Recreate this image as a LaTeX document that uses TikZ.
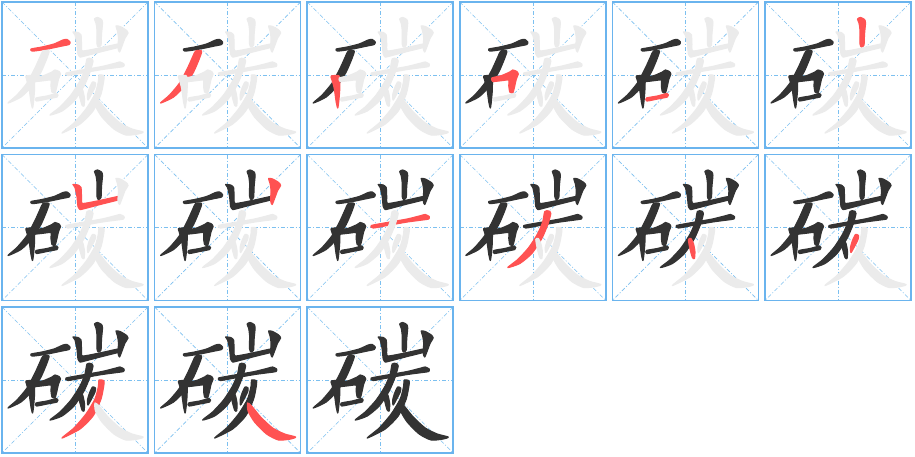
\documentclass[tikz,border=0pt]{standalone}
\begin{document}
\begin{tikzpicture}[x=1pt,y=-1pt,
  cellbox/.style={draw=gridblue,line width=1.6pt},
  guide/.style={draw=guideblue,line width=0.6pt,dash pattern=on 4pt off 2pt on 1pt off 2pt},
  ghost/.style={fill=ghostgray,draw=ghostgray,line width=1.2pt,line join=round},
  ink/.style={fill=inkdark,draw=inkdark,line width=1.2pt,line join=round},
  hot/.style={fill=hotred,draw=hotred,line width=1.2pt,line join=round}]
\definecolor{gridblue}{HTML}{6AB4EE}
\definecolor{guideblue}{HTML}{7CC0F0}
\definecolor{ghostgray}{HTML}{EBEBEB}
\definecolor{inkdark}{HTML}{333333}
\definecolor{hotred}{HTML}{FF5252}
\useasboundingbox (0,0) rectangle (915,456);
\fill[white] (0,0) rectangle (915,456);
% strokes in cell-local coordinates
\def\stkA{plot[smooth cycle,tension=0.4] coordinates {(29,47) (40,45) (52,42) (61,38) (65,37.5) (68,40) (67,42.5) (60,44) (48,46.5) (36,48.5) (30,49)}}
\def\stkB{plot[smooth cycle,tension=0.4] coordinates {(41,49) (47,49) (45,56) (39,70) (30,84) (19,95) (6,101) (15,93) (25,81) (33,66) (38,55)}}
\def\stkC{plot[smooth cycle,tension=0.4] coordinates {(24,74) (31,73.5) (32.5,76) (32.5,88) (31.5,100) (30.5,106) (29,100) (27,86) (24.5,77)}}
\def\stkD{plot[smooth cycle,tension=0.3] coordinates {(32,76) (42,73.5) (50,70) (53,68) (57,69.5) (58.5,72) (56.5,77) (54.5,86) (53,91) (50,90) (49,84) (49,78) (43,78.5) (33,79.5)}}
\def\stkE{plot[smooth cycle,tension=0.4] coordinates {(34,96) (45,94) (54.5,91.5) (56,93) (55,95) (45,97) (34.5,99)}}
\def\stkF{plot[smooth cycle,tension=0.4] coordinates {(92.5,17) (95.5,15.5) (99.5,17.5) (100.5,21) (99.5,32) (99,43) (96.5,45) (95,42) (95,28) (94,21)}}
\def\stkG{plot[smooth cycle,tension=0.3] coordinates {(71,30) (76,30.5) (79,33) (79.5,42) (80.5,49) (100,45.5) (116,42) (118.5,43.5) (116,45.5) (100,49.5) (81,54.5) (78,55) (76,52) (75,42) (73,33)}}
\def\stkH{plot[smooth cycle,tension=0.4] coordinates {(114,24) (118,24.5) (124,28) (126,31) (123,36) (120,44) (117.5,50) (116,46) (116.5,36) (115.5,29)}}
\def\stkI{plot[smooth cycle,tension=0.4] coordinates {(64,71) (80,68) (100,64.5) (114,61) (118,60) (122,62) (121.5,64.5) (115,65.5) (100,67.5) (80,71) (66,73.5)}}
\def\stkJ{plot[smooth cycle,tension=0.4] coordinates {(85,57) (89,56.5) (91,59) (88,70) (82,84) (72,99) (60,109) (48,113) (58,105) (69,93) (78,79) (83,67)}}
\def\stkK{plot[smooth cycle,tension=0.4] coordinates {(76,85) (78.5,84) (81,89) (82.5,97) (82,104) (80,103) (77.5,94)}}
\def\stkL{plot[smooth cycle,tension=0.4] coordinates {(90.5,80) (93.5,81) (93,85) (89.5,92) (86,98) (85.5,93) (87.5,86)}}
\def\stkM{plot[smooth cycle,tension=0.4] coordinates {(97,73) (101.5,73.5) (102,77) (99,92) (91,109) (78,122) (60,131) (72,121) (84,107) (93,92) (96.5,79)}}
\def\stkN{plot[smooth cycle,tension=0.4] coordinates {(93,96) (97,99) (106,110) (118,121) (130,127) (141,130) (136,132) (124,133) (112,127) (100,115) (93.5,104)}}
\def\allstk{\stkA,\stkB,\stkC,\stkD,\stkE,\stkF,\stkG,\stkH,\stkI,\stkJ,\stkK,\stkL,\stkM,\stkN}
% one cell: #1 x, #2 y, #3 current stroke number (15 = all done)
\newcommand\zicell[3]{%
 \begin{scope}[shift={(#1,#2)}]
  \draw[guide] (73,0) -- (73,146);
  \draw[guide] (0,73) -- (146,73);
  \draw[guide] (0,0) -- (146,146);
  \draw[guide] (146,0) -- (0,146);
  \foreach \s [count=\i] in \allstk {%
    \ifnum\i<#3 \filldraw[ink] \s;
    \else\ifnum\i=#3 \filldraw[hot] \s;
    \else \filldraw[ghost] \s; \fi\fi}
  \draw[cellbox] (0,0) rectangle (146,146);
 \end{scope}}
\zicell{2}{2}{1}
\zicell{154.6}{2}{2}
\zicell{307.2}{2}{3}
\zicell{459.8}{2}{4}
\zicell{612.4}{2}{5}
\zicell{765}{2}{6}
\zicell{2}{154.5}{7}
\zicell{154.6}{154.5}{8}
\zicell{307.2}{154.5}{9}
\zicell{459.8}{154.5}{10}
\zicell{612.4}{154.5}{11}
\zicell{765}{154.5}{12}
\zicell{2}{307}{13}
\zicell{154.6}{307}{14}
\zicell{307.2}{307}{15}
\end{tikzpicture}
\end{document}
